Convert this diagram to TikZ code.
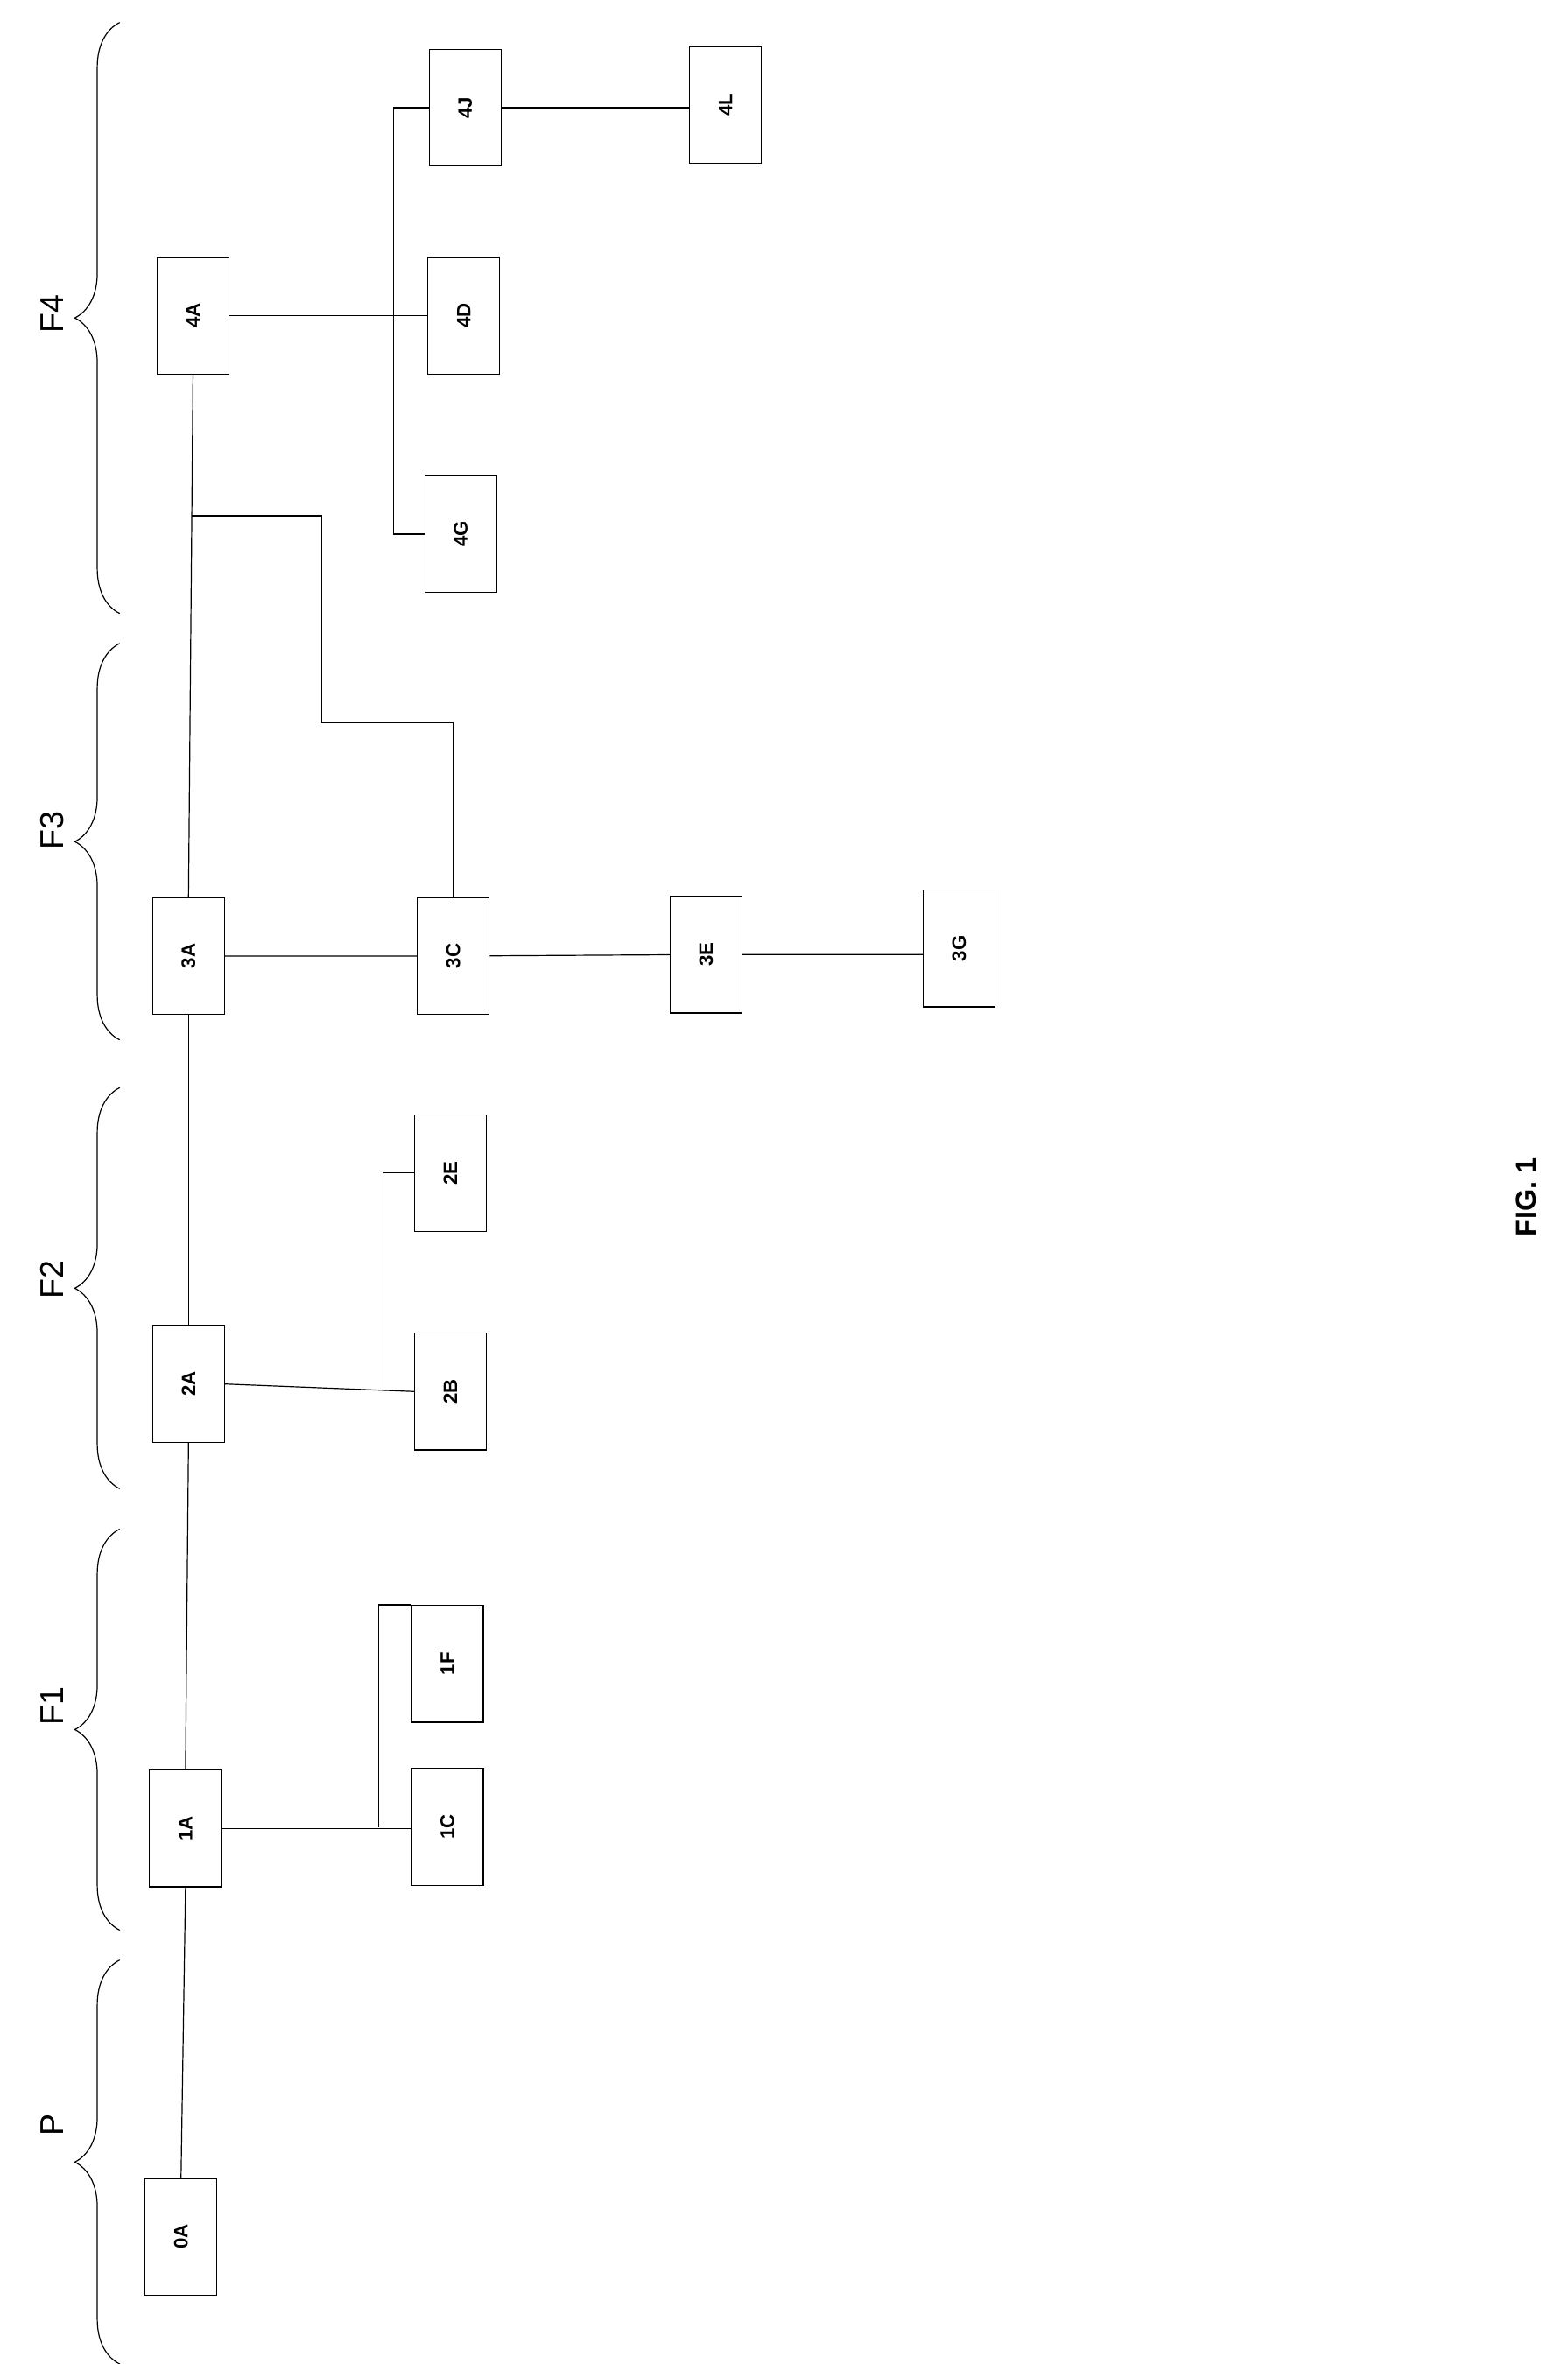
\documentclass[tikz,border=0pt]{standalone}
\usepackage{fontspec}
\setmainfont{Liberation Sans}
\usetikzlibrary{decorations.pathreplacing}
\begin{document}
\begin{tikzpicture}[x=1pt,y=-1pt,
  bx/.style={draw,line width=0.7pt,minimum width=48pt,minimum height=78pt,inner sep=0pt,font=\bfseries\fontsize{13}{13}\selectfont},
  ln/.style={line width=0.7pt},
  br/.style={line width=0.7pt,decorate,decoration={brace,amplitude=30pt}},
  lab/.style={rotate=90,font=\fontsize{22}{22}\selectfont}]
\useasboundingbox (0,0) rectangle (1048,1580);
\def\B#1#2#3#4{\node[bx] (#1) at (#2,#3) {\rotatebox{90}{#4}};}
\B{n0A}{121}{1495}{0A}
\B{n1A}{124}{1222}{1A}
\B{n1C}{299}{1221}{1C}
\B{n1F}{299}{1112}{1F}
\B{n2A}{126}{925}{2A}
\B{n2B}{301}{930}{2B}
\B{n2E}{301}{784}{2E}
\B{n3A}{126}{639}{3A}
\B{n3C}{303}{639}{3C}
\B{n3E}{472}{638}{3E}
\B{n3G}{641}{634}{3G}
\B{n4A}{129}{211}{4A}
\B{n4D}{310}{211}{4D}
\B{n4G}{308}{357}{4G}
\B{n4J}{311}{72}{4J}
\B{n4L}{485}{70}{4L}
\draw[ln] (n0A.north) -- (n1A.south);
\draw[ln] (n1A.north) -- (n2A.south);
\draw[ln] (n2A.north) -- (n3A.south);
\draw[ln] (n3A.north) -- coordinate[pos=0.73] (t) (n4A.south);
\draw[ln] (n1A.east) -- (n1A.east -| n1C.west);
\draw[ln] (253,1221) |- (n1F.north west);
\draw[ln] (n2A.east) -- (n2B.west);
\draw[ln] (256,929) |- (n2E.west);
\draw[ln] (n3A) -- (n3C) (n3C) -- (n3E) (n3E.east) -- (n3G.west |- n3E.east);
\draw[ln] (n3C.north) |- (215,483) |- (t);
\draw[ln] (n4A.east) -- (n4D.west);
\draw[ln] (n4G.west) -| (263,72) -- (n4J.west);
\draw[ln] (n4J.east) -- (n4L.west |- n4J.east);
\draw[br] (80,410) -- (80,15);
\draw[br] (80,695) -- (80,430);
\draw[br] (80,995) -- (80,727);
\draw[br] (80,1290) -- (80,1022);
\draw[br] (80,1580) -- (80,1310);
\node[lab] (lF4) at (35,210) {F4};
\node[lab] (lF3) at (35,555) {F3};
\node[lab] (lF2) at (35,855) {F2};
\node[lab] (lF1) at (35,1140) {F1};
\node[lab] (lP) at (35,1420) {P};
\node[rotate=90,font=\bfseries\fontsize{19}{19}\selectfont] (fig) at (1020,800) {FIG. 1};
\end{tikzpicture}
\end{document}
